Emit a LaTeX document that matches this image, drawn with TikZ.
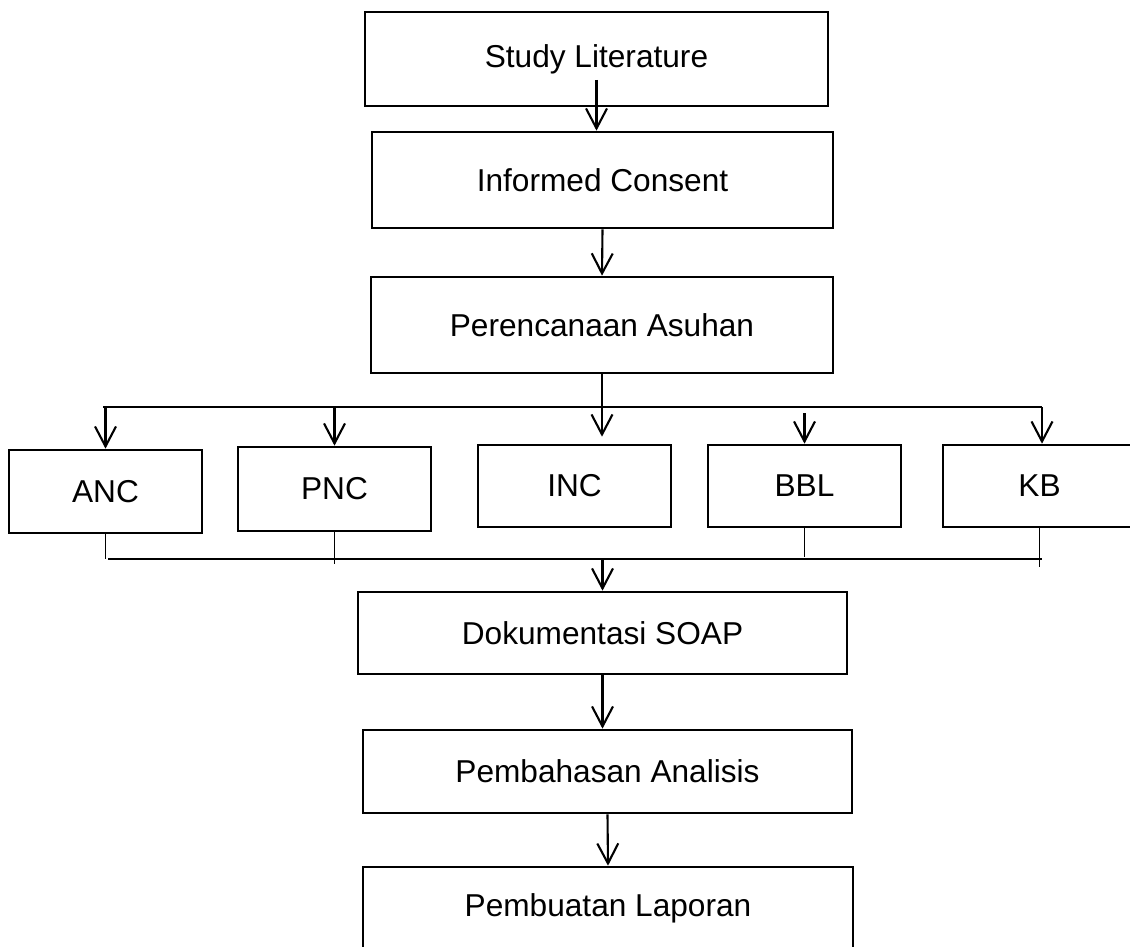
\documentclass[tikz,border=0pt]{standalone}
\usepackage{fontspec}
\setmainfont{Liberation Sans}
\usetikzlibrary{arrows.meta}

\begin{document}
\begin{tikzpicture}[
  box/.style={shape=rectangle, draw=black, line width=1.5pt, inner sep=0pt, font=\fontsize{18}{21.6}\selectfont},
  arr/.style={-{Straight Barb[length=0.4cm,width=0.42cm]}, line width=1.2pt, draw=black},
  ln/.style={-, line width=0.7pt, draw=black}]
\clip (0,0) rectangle (22.6,-18.94);
\node[box, minimum width=9.26cm, minimum height=1.88cm] (1) at (11.93,-1.18) {Study Literature};
\node[box, minimum width=9.22cm, minimum height=1.92cm] (2) at (12.05,-3.60) {Informed Consent};
\node[box, minimum width=9.24cm, minimum height=1.92cm] (3) at (12.04,-6.50) {Perencanaan Asuhan};
\node[box, minimum width=3.86cm, minimum height=1.66cm] (4) at (2.11,-9.83) {ANC};
\node[box, minimum width=3.86cm, minimum height=1.68cm] (5) at (6.69,-9.78) {PNC};
\node[box, minimum width=3.86cm, minimum height=1.64cm] (6) at (11.49,-9.72) {INC};
\node[box, minimum width=3.86cm, minimum height=1.64cm] (7) at (16.09,-9.72) {BBL};
\node[box, minimum width=3.86cm, minimum height=1.64cm] (8) at (20.79,-9.72) {KB};
\node[box, minimum width=9.78cm, minimum height=1.64cm] (9) at (12.05,-12.66) {Dokumentasi SOAP};
\node[box, minimum width=9.78cm, minimum height=1.66cm] (10) at (12.15,-15.43) {Pembahasan Analisis};
\node[box, minimum width=9.80cm, minimum height=1.66cm] (11) at (12.16,-18.17) {Pembuatan Laporan};
\coordinate (tl) at (2.06,-8.14);
\coordinate (tr) at (20.84,-8.14);
\coordinate (bl) at (2.16,-11.18);
\coordinate (br) at (20.84,-11.18);
\draw [arr] ([yshift=-0.42cm]1.center) -- (1.center |- 2.north);
\draw [arr] (2.south) -- (3.north);
\draw [arr, shorten >=0.14cm] (3.south) -- (3.south |- 6.north);
\draw [ln] (tl) -- (tr);
\draw [arr] (4.north |- tl) -- (4.north);
\draw [arr] (5.north |- tl) -- (5.north);
\draw [arr, shorten <=0.12cm] (7.north |- tl) -- (7.north);
\draw [arr] (tr) -- (tr |- 8.north);
\draw [ln] (4.south) -- ++(0,-0.5);
\draw [ln] (5.south) -- ++(0,-0.64);
\draw [ln] (7.south) -- ++(0,-0.58);
\draw [ln] (8.south) -- ++(0,-0.78);
\draw [ln] (bl) -- (br);
\draw [arr] (9.north |- bl) -- (9.north);
\draw [arr] (9.south) -- (9.south |- 10.north);
\draw [arr] (10.south) -- (11.north);
\end{tikzpicture}
\end{document}
